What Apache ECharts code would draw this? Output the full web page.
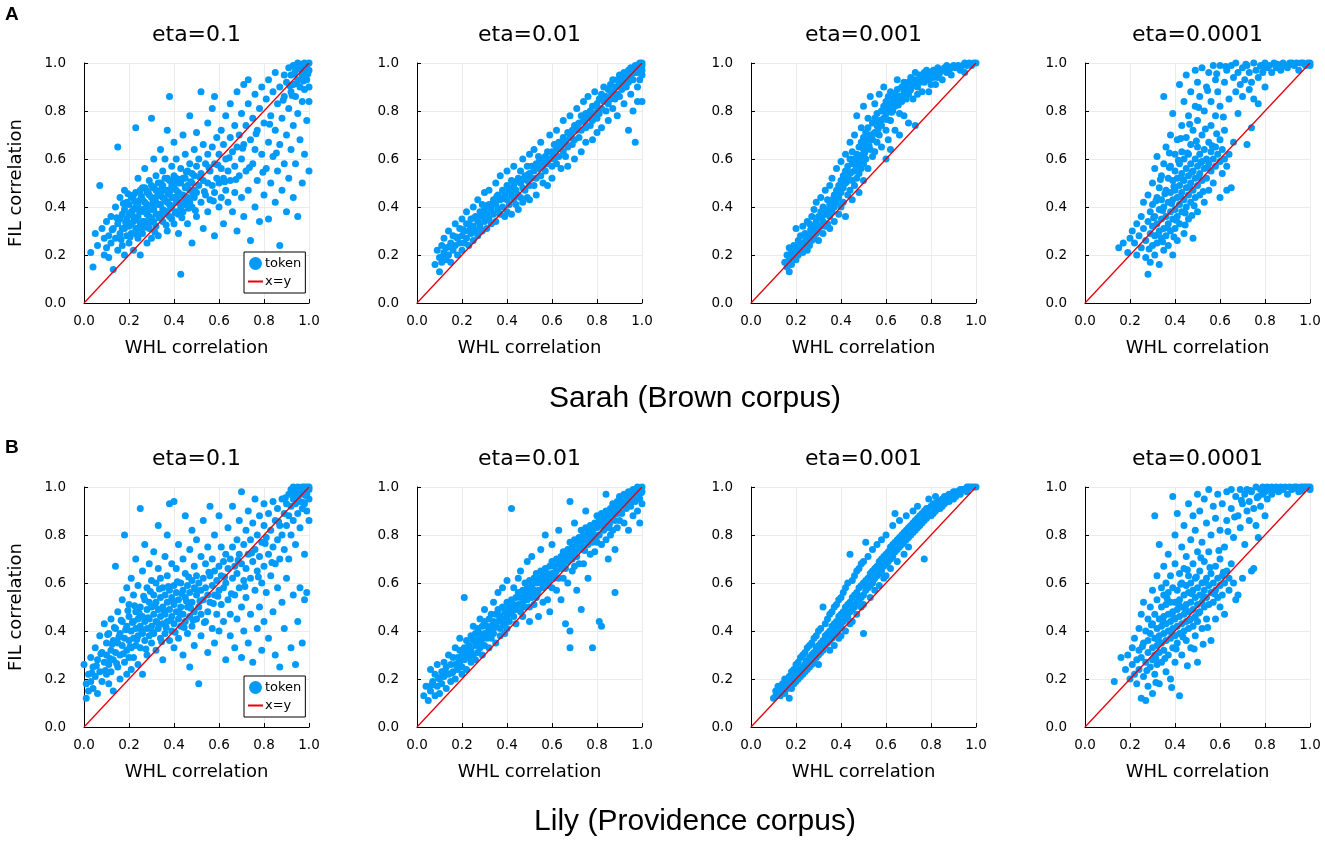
<!DOCTYPE html>
<html>
<head>
<meta charset="utf-8">
<title>WHL vs FIL correlation</title>
<script src="https://cdn.jsdelivr.net/npm/echarts@6/dist/echarts.min.js"></script>
<style>
  html, body { margin: 0; padding: 0; background: #fff; }
  #chart { width: 1325px; height: 846px; }
</style>
</head>
<body>
<div id="chart"></div>
<script>
// panel titles, row captions
var etaTitles = ['eta=0.1', 'eta=0.01', 'eta=0.001', 'eta=0.0001'];
var corpusLabels = ['Sarah (Brown corpus)', 'Lily (Providence corpus)'];
var panelLetters = ['A', 'B'];
var diagonal = [[0, 0], [1, 1]];

// Sarah, [WHL, FIL] per token
var sarahEta1 = [[.03,.21],[.04,.15],[.05,.29],[.06,.24],[.07,.49],[.08,.31],[.09,.2],[.09,.27],[.1,.34],[.1,.23],
[.11,.28],[.11,.19],[.12,.36],[.12,.25],[.13,.31],[.13,.14],[.14,.4],[.14,.27],[.15,.65],[.15,.33],[.15,.22],[.16,.44],[.16,.29],[.17,.37],[.17,.24],[.18,.31],[.18,.47],[.18,.2],[.19,.35],[.19,.28],[.2,.41],[.2,.32],[.2,.25],
[.21,.38],[.21,.29],[.22,.45],[.22,.34],[.22,.22],[.23,.73],[.23,.4],[.23,.31],[.24,.52],[.24,.36],[.24,.27],[.25,.43],[.25,.33],[.25,.2],[.26,.48],[.26,.39],[.26,.29],[.27,.56],[.27,.42],[.27,.34],[.28,.37],[.28,.46],[.28,.25],[.29,.51],[.29,.4],[.29,.31],[.3,.77],[.3,.44],[.3,.35],[.3,.27],
[.31,.6],[.31,.48],[.31,.39],[.32,.42],[.32,.32],[.32,.53],[.33,.45],[.33,.37],[.33,.28],[.34,.64],[.34,.5],[.34,.41],[.35,.55],[.35,.44],[.35,.34],[.36,.47],[.36,.38],[.36,.6],[.37,.72],[.37,.52],[.37,.42],[.37,.3],[.38,.86],[.38,.46],[.38,.36],[.39,.57],[.39,.49],[.39,.4],[.4,.67],[.4,.53],[.4,.44],[.4,.33],
[.41,.6],[.41,.47],[.41,.38],[.42,.5],[.42,.42],[.42,.29],[.43,.12],[.43,.56],[.43,.45],[.44,.7],[.44,.52],[.44,.38],[.45,.62],[.45,.48],[.45,.41],[.46,.55],[.46,.44],[.46,.33],[.47,.78],[.47,.58],[.47,.47],[.48,.5],[.48,.4],[.48,.25],[.49,.64],[.49,.53],[.49,.44],[.5,.71],[.5,.57],[.5,.46],[.5,.36],
[.51,.6],[.51,.49],[.52,.88],[.52,.54],[.52,.42],[.53,.66],[.53,.51],[.53,.31],[.54,.58],[.54,.45],[.55,.75],[.55,.62],[.55,.5],[.55,.38],[.56,.55],[.56,.43],[.57,.81],[.57,.65],[.57,.49],[.58,.86],[.58,.58],[.58,.46],[.58,.28],[.59,.69],[.59,.52],[.6,.62],[.6,.5],[.6,.4],
[.61,.72],[.61,.56],[.61,.44],[.62,.66],[.62,.52],[.62,.33],[.63,.78],[.63,.6],[.63,.47],[.64,.55],[.64,.42],[.65,.83],[.65,.69],[.65,.51],[.66,.63],[.66,.38],[.67,.74],[.67,.57],[.67,.46],[.68,.88],[.68,.65],[.68,.3],[.69,.7],[.69,.53],[.7,.79],[.7,.6],[.7,.44],
[.71,.91],[.71,.66],[.71,.36],[.72,.74],[.72,.55],[.73,.93],[.73,.83],[.73,.47],[.74,.68],[.74,.26],[.75,.77],[.75,.58],[.76,.87],[.76,.64],[.76,.4],[.77,.72],[.77,.51],[.78,.81],[.78,.34],[.79,.9],[.79,.62],[.8,.75],[.8,.45],
[.81,.85],[.81,.56],[.82,.93],[.82,.67],[.82,.35],[.83,.78],[.83,.5],[.84,.88],[.84,.61],[.85,.96],[.85,.72],[.85,.42],[.86,.83],[.86,.55],[.87,.9],[.87,.66],[.87,.24],[.88,.77],[.88,.47],[.89,.95],[.89,.86],[.89,.58],[.9,.92],[.9,.7],[.9,.38],
[.91,.98],[.91,.81],[.91,.52],[.92,.95],[.92,.88],[.92,.64],[.93,.99],[.93,.91],[.93,.74],[.93,.44],[.94,.97],[.94,.86],[.94,.58],[.95,1],[.95,.93],[.95,.79],[.95,.36],[.96,.98],[.96,.9],[.96,.68],[.97,.99],[.97,.95],[.97,.84],[.97,.5],[.98,1],[.98,.96],[.98,.89],[.98,.62],[.99,.99],[.99,.93],[.99,.76],[1,1],[1,.97],[1,.9],[1,.84],[1,.55],
[.16,.35],[.17,.31],[.18,.39],[.19,.42],[.2,.37],[.21,.33],[.21,.44],[.22,.39],[.23,.35],[.23,.46],[.24,.31],[.24,.41],[.25,.38],[.25,.47],[.26,.34],[.26,.43],[.27,.38],[.27,.48],[.28,.41],[.28,.32],[.29,.36],[.29,.45],[.3,.39],[.3,.49],[.31,.43],[.31,.34],[.32,.47],[.32,.37],[.33,.41],[.33,.5],[.34,.45],[.34,.36],[.35,.39],[.35,.49],[.36,.43],[.36,.52],[.37,.47],[.37,.37],[.38,.41],[.38,.51],[.39,.44],[.39,.35],[.4,.48],[.41,.42],[.41,.52],[.42,.46],[.42,.37],[.43,.4],[.43,.5],[.44,.45],[.45,.52],[.46,.49],[.47,.42],[.48,.54],[.49,.47],
[.125,.305],[.145,.355],[.165,.265],[.175,.415],[.185,.335],[.195,.455],[.205,.275],[.215,.365],[.225,.425],[.235,.285],[.245,.385],[.255,.445],[.265,.315],[.275,.395],[.285,.465],[.295,.335],[.305,.415],[.315,.295],[.325,.445],[.335,.355],[.345,.475],[.355,.385],[.365,.325],[.375,.455],[.385,.395],[.395,.505],[.405,.375],[.415,.445],[.425,.515],[.435,.355],[.445,.425],[.455,.545],[.465,.395],[.475,.505],[.485,.455],[.495,.385],[.515,.525],[.535,.465],[.555,.565],[.575,.425],[.595,.575],[.625,.505],[.645,.605],[.675,.515],[.705,.645],[.735,.565],[.765,.705],[.795,.545],[.825,.745],[.855,.625],[.885,.845],[.915,.905],[.935,.955],[.955,.975],[.975,.925],[.985,.985],[.995,.955],[.965,.995],[.945,.915],[.925,.865]];

var sarahEta2 = [[.08,.16],[.09,.22],[.1,.19],[.1,.13],[.11,.24],[.11,.17],[.12,.21],[.12,.27],[.13,.18],[.13,.23],[.14,.3],[.14,.2],[.15,.25],[.15,.17],[.16,.28],[.16,.22],[.17,.33],[.17,.24],[.18,.27],[.18,.2],[.19,.31],[.19,.25],[.2,.35],[.2,.28],[.2,.22],
[.21,.3],[.21,.25],[.22,.33],[.22,.27],[.22,.38],[.23,.3],[.23,.24],[.24,.35],[.24,.29],[.25,.32],[.25,.4],[.25,.26],[.26,.36],[.26,.3],[.27,.34],[.27,.43],[.27,.28],[.28,.38],[.28,.32],[.29,.36],[.29,.41],[.29,.3],[.3,.39],[.3,.34],[.3,.46],[.31,.37],[.31,.31],[.32,.41],[.32,.35],[.32,.47],[.33,.39],[.33,.33],[.34,.43],[.34,.37],[.35,.41],[.35,.5],[.35,.34],[.36,.45],[.36,.39],[.37,.43],[.37,.37],[.37,.53],[.38,.47],[.38,.4],[.39,.45],[.39,.36],[.4,.49],[.4,.43],[.4,.55],[.4,.38],
[.41,.47],[.41,.41],[.42,.51],[.42,.45],[.42,.37],[.43,.49],[.43,.43],[.43,.57],[.44,.47],[.44,.41],[.45,.52],[.45,.45],[.45,.39],[.46,.5],[.46,.55],[.46,.44],[.47,.48],[.47,.6],[.47,.42],[.48,.53],[.48,.47],[.49,.51],[.49,.57],[.49,.44],[.5,.54],[.5,.49],[.5,.62],[.5,.43],[.51,.52],[.51,.57],[.52,.55],[.52,.49],[.52,.64],[.53,.58],[.53,.52],[.53,.45],[.54,.56],[.54,.61],[.55,.59],[.55,.53],[.55,.67],[.56,.57],[.56,.5],[.57,.61],[.57,.55],[.58,.63],[.58,.58],[.58,.49],[.59,.6],[.59,.7],[.6,.63],[.6,.57],[.6,.52],
[.61,.66],[.61,.6],[.62,.64],[.62,.58],[.62,.72],[.63,.67],[.63,.61],[.64,.65],[.64,.56],[.65,.69],[.65,.63],[.65,.76],[.66,.67],[.66,.61],[.67,.71],[.67,.65],[.67,.57],[.68,.69],[.68,.78],[.69,.72],[.69,.66],[.7,.74],[.7,.68],[.7,.6],[.71,.72],[.71,.81],[.72,.75],[.72,.69],[.73,.78],[.73,.72],[.73,.63],[.74,.76],[.74,.84],[.75,.79],[.75,.73],[.75,.67],[.76,.77],[.76,.86],[.77,.8],[.77,.74],[.78,.82],[.78,.76],[.78,.68],[.79,.79],[.79,.88],[.8,.83],[.8,.77],[.8,.71],
[.81,.85],[.81,.79],[.82,.87],[.82,.81],[.82,.73],[.83,.84],[.83,.9],[.84,.86],[.84,.8],[.85,.89],[.85,.83],[.85,.76],[.86,.91],[.86,.85],[.87,.88],[.87,.93],[.87,.81],[.88,.9],[.88,.85],[.89,.93],[.89,.87],[.89,.78],[.9,.92],[.9,.95],[.9,.86],[.91,.94],[.91,.89],[.92,.96],[.92,.91],[.92,.83],[.93,.95],[.93,.9],[.94,.97],[.94,.92],[.94,.72],[.95,.98],[.95,.94],[.95,.87],[.96,.97],[.96,.93],[.96,.8],[.97,.99],[.97,.96],[.97,.67],[.98,.99],[.98,.96],[.98,.9],[.98,.84],[.99,1],[.99,.98],[.99,.93],[1,1],[1,.99],[1,.97],[1,.95],[1,.84],
[.115,.195],[.145,.235],[.175,.275],[.205,.305],[.235,.325],[.255,.355],[.285,.365],[.305,.405],[.335,.415],[.355,.445],[.385,.435],[.415,.475],[.435,.505],[.465,.515],[.495,.535],[.525,.565],[.545,.595],[.575,.585],[.605,.615],[.635,.645],[.655,.675],[.685,.705],[.715,.745],[.745,.755],[.775,.785],[.805,.805],[.835,.855],[.865,.875],[.895,.905],[.925,.935],[.955,.955],[.975,.975],[.995,.985]];

var sarahEta3 = [[.15,.17],[.16,.15],[.16,.2],[.17,.13],[.17,.18],[.17,.23],[.18,.16],[.18,.21],[.19,.19],[.19,.24],[.2,.18],[.2,.22],[.2,.31],[.21,.2],[.21,.26],[.22,.22],[.22,.28],[.23,.21],[.23,.25],[.23,.32],[.24,.23],[.24,.29],[.25,.26],[.25,.22],[.25,.34],
[.26,.28],[.26,.33],[.26,.24],[.27,.3],[.27,.36],[.27,.26],[.28,.32],[.28,.27],[.28,.39],[.29,.34],[.29,.29],[.29,.42],[.3,.36],[.3,.3],[.3,.26],[.31,.38],[.31,.32],[.31,.44],[.32,.34],[.32,.4],[.32,.29],[.33,.37],[.33,.47],[.33,.32],[.34,.39],[.34,.43],[.34,.33],[.35,.41],[.35,.36],[.35,.49],[.35,.31],
[.36,.43],[.36,.38],[.36,.52],[.37,.45],[.37,.4],[.37,.34],[.38,.47],[.38,.42],[.38,.56],[.39,.49],[.39,.44],[.39,.37],[.4,.51],[.4,.46],[.4,.59],[.4,.4],[.41,.53],[.41,.48],[.41,.42],[.42,.55],[.42,.5],[.42,.62],[.42,.36],[.43,.57],[.43,.52],[.43,.45],[.44,.6],[.44,.54],[.44,.67],[.44,.47],[.45,.58],[.45,.63],[.45,.51],[.45,.43],
[.46,.6],[.46,.55],[.46,.7],[.46,.49],[.47,.62],[.47,.57],[.47,.78],[.47,.52],[.48,.65],[.48,.59],[.48,.54],[.48,.46],[.49,.67],[.49,.61],[.49,.73],[.49,.56],[.5,.69],[.5,.64],[.5,.58],[.5,.82],[.5,.51],[.51,.71],[.51,.66],[.51,.6],[.52,.73],[.52,.68],[.52,.77],[.52,.56],[.53,.7],[.53,.64],[.53,.86],[.54,.75],[.54,.68],[.54,.61],[.55,.77],[.55,.71],[.55,.83],[.55,.63],
[.56,.74],[.56,.79],[.56,.67],[.57,.76],[.57,.87],[.57,.7],[.58,.8],[.58,.74],[.58,.65],[.59,.82],[.59,.77],[.59,.9],[.6,.84],[.6,.79],[.6,.72],[.6,.6],[.61,.81],[.61,.86],[.61,.68],[.62,.83],[.62,.88],[.62,.76],[.62,.64],[.63,.85],[.63,.8],[.64,.87],[.64,.82],[.64,.72],[.65,.89],[.65,.84],[.65,.93],[.66,.86],[.66,.79],[.66,.7],[.67,.9],[.67,.84],[.68,.88],[.68,.92],[.68,.78],[.69,.9],[.69,.85],[.7,.92],[.7,.87],[.7,.75],
[.71,.94],[.71,.89],[.72,.91],[.72,.85],[.73,.93],[.73,.96],[.73,.74],[.74,.9],[.74,.87],[.75,.95],[.75,.92],[.76,.94],[.76,.88],[.77,.96],[.77,.92],[.78,.94],[.78,.97],[.79,.93],[.79,.88],[.8,.96],[.8,.91],[.81,.97],[.81,.94],[.82,.95],[.82,.91],[.83,.98],[.83,.94],[.84,.96],[.85,.97],[.85,.93],[.86,.98],[.87,.96],[.87,.99],[.88,.97],[.89,.98],[.89,.95],[.9,.99],[.91,.98],[.92,.99],[.93,.97],[.94,.99],[.95,1],[.95,.96],[.96,.99],[.97,1],[.98,.99],[.99,1],[1,1],
[.185,.195],[.215,.235],[.245,.265],[.265,.305],[.295,.315],[.315,.355],[.345,.375],[.365,.415],[.385,.445],[.405,.485],[.425,.505],[.445,.545],[.465,.575],[.485,.615],[.505,.625],[.525,.655],[.545,.705],[.565,.725],[.585,.765],[.605,.765],[.625,.795],[.655,.825],[.675,.865],[.705,.885],[.735,.905],[.765,.925],[.795,.945],[.835,.955],[.875,.975],[.925,.985]];

var sarahEta4 = [[.15,.23],[.17,.25],[.19,.21],[.2,.27],[.21,.3],[.22,.25],[.23,.33],[.23,.2],[.24,.28],[.25,.36],[.25,.23],[.26,.31],[.26,.42],[.27,.26],[.27,.19],[.28,.34],[.28,.12],[.28,.45],[.29,.29],[.29,.38],[.29,.17],[.3,.32],[.3,.5],[.3,.24],[.3,.41],
[.31,.36],[.31,.28],[.31,.56],[.31,.2],[.32,.44],[.32,.33],[.32,.25],[.32,.61],[.33,.39],[.33,.3],[.33,.48],[.33,.16],[.34,.35],[.34,.53],[.34,.27],[.34,.43],[.35,.31],[.35,.4],[.35,.58],[.35,.22],[.35,.86],[.36,.47],[.36,.36],[.36,.28],[.36,.65],[.37,.42],[.37,.33],[.37,.52],[.37,.24],[.38,.38],[.38,.46],[.38,.3],[.38,.7],[.38,.57],[.39,.43],[.39,.35],[.39,.51],[.39,.2],[.39,.79],[.4,.47],[.4,.39],[.4,.62],[.4,.31],[.4,.55],
[.41,.44],[.41,.36],[.41,.52],[.41,.68],[.41,.26],[.42,.49],[.42,.41],[.42,.58],[.42,.33],[.42,.91],[.43,.46],[.43,.54],[.43,.38],[.43,.74],[.43,.63],[.44,.51],[.44,.43],[.44,.6],[.44,.29],[.44,.84],[.45,.48],[.45,.56],[.45,.4],[.45,.69],[.45,.95],[.46,.53],[.46,.45],[.46,.62],[.46,.35],[.46,.78],[.47,.5],[.47,.58],[.47,.42],[.47,.88],[.47,.66],[.48,.55],[.48,.47],[.48,.72],[.48,.27],[.49,.52],[.49,.6],[.49,.44],[.49,.82],[.49,.97],[.5,.57],[.5,.49],[.5,.65],[.5,.38],[.5,.76],[.5,.92],
[.51,.54],[.51,.62],[.51,.45],[.51,.86],[.52,.59],[.52,.51],[.52,.7],[.52,.98],[.53,.56],[.53,.64],[.53,.42],[.53,.8],[.54,.6],[.54,.52],[.54,.9],[.55,.58],[.55,.67],[.55,.47],[.55,.96],[.56,.63],[.56,.74],[.56,.55],[.56,.84],[.57,.6],[.57,.5],[.57,.99],[.58,.65],[.58,.57],[.58,.78],[.58,.93],[.59,.62],[.59,.88],[.6,.59],[.6,.68],[.6,.82],[.6,.99],[.6,.44],[.61,.64],[.61,.54],[.62,.6],[.62,.92],[.62,.72],[.63,.57],[.63,.97],[.63,.47],[.64,.62],[.64,.85],[.65,.48],[.65,.99],
[.66,.94],[.66,.67],[.67,1],[.67,.88],[.68,.96],[.68,.79],[.69,.91],[.7,.98],[.7,.86],[.71,.93],[.72,.99],[.72,.66],[.73,.89],[.73,.96],[.74,.73],[.74,.92],[.75,1],[.75,.85],[.76,.97],[.77,.94],[.77,.83],[.78,.99],[.79,.96],[.8,1],[.8,.9],[.81,.98],[.82,.99],[.83,.96],[.84,1],[.85,.98],[.86,.99],[.87,.97],[.88,1],[.89,.99],[.9,.98],[.91,1],[.92,1],[.93,.99],[.94,1],[.95,.97],[.96,1],[.97,1],[.98,.99],[.99,1],[1,1],[1,.99],
[.305,.355],[.315,.425],[.325,.285],[.335,.515],[.345,.385],[.355,.455],[.365,.315],[.375,.565],[.385,.415],[.395,.485],[.405,.345],[.415,.595],[.425,.445],[.435,.515],[.445,.375],[.455,.625],[.465,.485],[.475,.545],[.485,.405],[.495,.675],[.505,.525],[.515,.585],[.525,.465],[.535,.725],[.545,.565],[.565,.655],[.585,.705],[.615,.775],[.285,.225],[.345,.255],[.395,.275],[.445,.325],[.475,.365],[.375,.625],[.425,.685],[.465,.745],[.505,.815],[.545,.885],[.585,.955],[.625,.985],[.715,.995],[.785,.985],[.855,.995],[.925,.995]];

// Lily, [WHL, FIL] per token
var lilyEta1 = [[0,.26],[.01,.18],[.01,.12],[.02,.22],[.02,.15],[.03,.29],[.03,.19],[.04,.25],[.04,.16],[.05,.33],[.05,.21],[.06,.28],[.06,.14],[.07,.38],[.07,.23],[.08,.31],[.08,.19],[.09,.43],[.09,.27],[.1,.35],[.1,.22],[.1,.3],
[.11,.39],[.11,.26],[.11,.18],[.12,.32],[.12,.45],[.12,.23],[.13,.36],[.13,.28],[.13,.15],[.14,.41],[.14,.31],[.14,.67],[.15,.35],[.15,.25],[.15,.48],[.16,.39],[.16,.3],[.16,.2],[.17,.44],[.17,.34],[.17,.53],[.18,.37],[.18,.27],[.18,.8],[.19,.42],[.19,.32],[.19,.58],[.19,.22],[.2,.46],[.2,.36],[.2,.29],[.2,.51],
[.21,.4],[.21,.33],[.21,.62],[.21,.24],[.22,.44],[.22,.37],[.22,.55],[.22,.29],[.23,.48],[.23,.41],[.23,.34],[.23,.7],[.24,.45],[.24,.38],[.24,.59],[.24,.26],[.25,.91],[.25,.5],[.25,.42],[.25,.33],[.26,.46],[.26,.39],[.26,.65],[.26,.22],[.27,.53],[.27,.44],[.27,.36],[.27,.76],[.28,.49],[.28,.41],[.28,.58],[.28,.3],[.29,.45],[.29,.38],[.29,.68],[.29,.52],[.3,.5],[.3,.42],[.3,.35],[.3,.61],
[.31,.47],[.31,.55],[.31,.39],[.31,.73],[.32,.52],[.32,.44],[.32,.6],[.32,.32],[.33,.49],[.33,.41],[.33,.66],[.33,.84],[.34,.54],[.34,.46],[.34,.37],[.34,.62],[.35,.5],[.35,.43],[.35,.58],[.35,.28],[.36,.55],[.36,.47],[.36,.71],[.36,.39],[.37,.52],[.37,.44],[.37,.63],[.37,.8],[.38,.57],[.38,.49],[.38,.36],[.38,.93],[.39,.54],[.39,.46],[.39,.68],[.39,.4],[.4,.59],[.4,.51],[.4,.94],[.4,.43],[.4,.33],
[.41,.56],[.41,.48],[.41,.66],[.42,.53],[.42,.45],[.42,.76],[.42,.37],[.43,.6],[.43,.5],[.43,.42],[.44,.57],[.44,.47],[.44,.7],[.44,.3],[.45,.54],[.45,.44],[.45,.64],[.45,.88],[.46,.59],[.46,.5],[.46,.39],[.47,.56],[.47,.46],[.47,.74],[.47,.25],[.48,.61],[.48,.52],[.48,.42],[.48,.82],[.49,.58],[.49,.48],[.49,.67],[.49,.34],[.5,.55],[.5,.45],[.5,.63],[.5,.78],
[.51,.6],[.51,.5],[.51,.18],[.52,.57],[.52,.47],[.52,.71],[.52,.38],[.53,.62],[.53,.53],[.53,.86],[.54,.58],[.54,.44],[.54,.68],[.55,.55],[.55,.48],[.55,.75],[.55,.31],[.56,.63],[.56,.52],[.56,.92],[.57,.59],[.57,.41],[.57,.7],[.58,.65],[.58,.55],[.58,.8],[.58,.35],[.59,.61],[.59,.47],[.6,.67],[.6,.57],[.6,.88],[.6,.4],
[.61,.63],[.61,.51],[.61,.75],[.62,.69],[.62,.44],[.62,.58],[.63,.72],[.63,.6],[.63,.28],[.64,.66],[.64,.53],[.64,.83],[.65,.7],[.65,.47],[.65,.38],[.66,.75],[.66,.62],[.66,.92],[.67,.67],[.67,.55],[.67,.33],[.68,.78],[.68,.64],[.68,.45],[.69,.72],[.69,.58],[.69,.86],[.7,.98],[.7,.68],[.7,.5],[.7,.29],
[.71,.76],[.71,.61],[.71,.4],[.72,.82],[.72,.66],[.72,.54],[.73,.72],[.73,.9],[.73,.35],[.74,.78],[.74,.62],[.74,.47],[.75,.85],[.75,.69],[.75,.27],[.76,.74],[.76,.57],[.76,.95],[.77,.8],[.77,.65],[.77,.41],[.78,.88],[.78,.71],[.78,.5],[.79,.77],[.79,.6],[.79,.32],[.8,.84],[.8,.67],[.8,.93],[.8,.44],
[.81,.79],[.81,.56],[.82,.89],[.82,.72],[.82,.37],[.83,.82],[.83,.63],[.84,.94],[.84,.75],[.84,.48],[.85,.86],[.85,.68],[.85,.3],[.86,.91],[.86,.78],[.86,.58],[.87,.84],[.87,.7],[.87,.25],[.88,.95],[.88,.8],[.88,.52],[.89,.89],[.89,.74],[.89,.41],[.9,.93],[.9,.84],[.9,.62],
[.91,.97],[.91,.88],[.91,.7],[.92,.99],[.92,.92],[.92,.8],[.92,.33],[.93,1],[.93,.95],[.93,.86],[.93,.55],[.94,.98],[.94,.93],[.94,.76],[.94,.26],[.95,1],[.95,.96],[.95,.89],[.95,.44],[.96,.99],[.96,.94],[.96,.83],[.96,.58],[.97,1],[.97,.97],[.97,.91],[.97,.35],[.98,1],[.98,.98],[.98,.93],[.98,.72],[.98,.53],[.99,1],[.99,.97],[.99,.9],[.99,.56],[1,1],[1,.99],[1,.95],[1,.86],
[.035,.225],[.055,.255],[.075,.305],[.095,.235],[.105,.385],[.115,.285],[.125,.345],[.135,.415],[.145,.265],[.155,.375],[.165,.445],[.175,.305],[.185,.405],[.195,.485],[.205,.335],[.215,.435],[.225,.505],[.235,.365],[.245,.475],[.255,.405],[.265,.545],[.275,.325],[.285,.455],[.295,.565],[.305,.395],[.315,.505],[.325,.435],[.335,.575],[.345,.355],[.355,.485],[.365,.415],[.375,.585],[.385,.445],[.395,.525],[.405,.395],[.415,.605],[.425,.475],[.435,.555],[.445,.415],[.455,.525],[.465,.625],[.475,.495],[.485,.445],[.495,.575],[.515,.525],[.535,.435],[.555,.645],[.575,.515],[.595,.545],[.625,.625],[.655,.555],[.685,.695],[.715,.585],[.745,.725],[.775,.625],[.805,.765],[.835,.685],[.865,.855],[.895,.955],[.925,.975],[.945,.955],[.965,.985],[.985,.965],[.995,.995],[.975,.935]];

var lilyEta2 = [[.03,.13],[.04,.17],[.05,.11],[.06,.24],[.06,.15],[.07,.19],[.08,.13],[.08,.22],[.09,.17],[.09,.26],[.1,.2],[.1,.14],[.11,.23],[.11,.18],[.12,.27],[.12,.21],[.13,.16],[.13,.25],[.14,.3],[.14,.22],[.15,.26],[.15,.19],[.16,.29],[.16,.23],[.17,.33],[.17,.26],[.17,.2],[.18,.29],[.18,.24],[.19,.32],[.19,.27],[.19,.37],[.2,.3],[.2,.25],[.2,.22],
[.21,.33],[.21,.28],[.21,.54],[.22,.36],[.22,.31],[.22,.24],[.23,.34],[.23,.29],[.24,.38],[.24,.32],[.24,.27],[.25,.36],[.25,.42],[.25,.3],[.26,.39],[.26,.34],[.26,.28],[.27,.41],[.27,.36],[.27,.31],[.28,.39],[.28,.45],[.28,.33],[.29,.42],[.29,.37],[.29,.3],[.3,.44],[.3,.39],[.3,.34],[.3,.49],[.31,.42],[.31,.37],[.32,.45],[.32,.4],[.32,.33],[.33,.47],[.33,.42],[.33,.37],[.34,.44],[.34,.52],[.34,.39],[.35,.47],[.35,.42],[.35,.35],[.36,.49],[.36,.44],[.36,.56],[.37,.46],[.37,.41],[.37,.38],[.38,.5],[.38,.45],[.38,.58],[.39,.48],[.39,.43],[.39,.39],[.4,.52],[.4,.46],[.4,.61],[.4,.41],
[.41,.5],[.41,.44],[.42,.91],[.42,.53],[.42,.48],[.43,.51],[.43,.46],[.43,.58],[.44,.54],[.44,.49],[.44,.43],[.45,.56],[.45,.51],[.45,.62],[.46,.54],[.46,.48],[.46,.65],[.47,.57],[.47,.52],[.47,.46],[.48,.6],[.48,.55],[.48,.5],[.49,.58],[.49,.53],[.49,.69],[.5,.61],[.5,.56],[.5,.5],[.5,.44],[.51,.59],[.51,.54],[.51,.71],[.52,.62],[.52,.57],[.52,.51],[.53,.64],[.53,.6],[.53,.54],[.54,.62],[.54,.57],[.54,.46],[.55,.65],[.55,.6],[.55,.74],[.56,.63],[.56,.58],[.56,.52],[.57,.66],[.57,.61],[.57,.8],[.58,.64],[.58,.59],[.58,.53],[.59,.67],[.59,.62],[.59,.48],[.6,.69],[.6,.64],[.6,.58],[.6,.76],
[.61,.67],[.61,.62],[.62,.7],[.62,.65],[.62,.57],[.63,.68],[.63,.62],[.63,.82],[.64,.71],[.64,.66],[.64,.53],[.65,.73],[.65,.68],[.65,.62],[.66,.71],[.66,.66],[.66,.43],[.67,.74],[.67,.69],[.67,.6],[.68,.77],[.68,.72],[.68,.94],[.68,.4],[.68,.33],[.69,.75],[.69,.7],[.69,.65],[.7,.78],[.7,.73],[.7,.67],[.7,.85],[.71,.76],[.71,.71],[.71,.57],[.72,.79],[.72,.74],[.72,.68],[.73,.82],[.73,.77],[.73,.49],[.74,.8],[.74,.75],[.74,.68],[.75,.83],[.75,.78],[.75,.9],[.76,.81],[.76,.76],[.76,.62],[.77,.84],[.77,.79],[.77,.72],[.78,.82],[.78,.77],[.78,.33],[.79,.85],[.79,.8],[.79,.73],[.8,.88],[.8,.83],[.8,.77],
[.81,.86],[.81,.8],[.81,.44],[.82,.89],[.82,.84],[.82,.76],[.82,.42],[.83,.87],[.83,.82],[.84,.97],[.84,.9],[.84,.85],[.84,.78],[.85,.88],[.85,.83],[.85,.7],[.86,.91],[.86,.86],[.86,.8],[.87,.93],[.87,.89],[.87,.82],[.88,.91],[.88,.86],[.88,.56],[.88,.74],[.89,.94],[.89,.89],[.89,.83],[.9,.96],[.9,.92],[.9,.86],[.91,.94],[.91,.89],[.92,.97],[.92,.93],[.92,.85],[.93,.96],[.93,.91],[.94,.98],[.94,.94],[.94,.82],[.95,.97],[.95,.92],[.96,.99],[.96,.95],[.96,.88],[.97,.98],[.97,.94],[.98,1],[.98,.96],[.98,.9],[.99,.99],[.99,.95],[.99,.85],[1,1],[1,.98],[1,.93],
[.065,.175],[.095,.205],[.125,.235],[.155,.225],[.185,.265],[.215,.305],[.235,.315],[.265,.365],[.285,.355],[.315,.395],[.345,.415],[.365,.465],[.385,.425],[.415,.475],[.435,.495],[.465,.505],[.485,.535],[.515,.565],[.535,.555],[.565,.615],[.585,.605],[.615,.645],[.645,.685],[.665,.695],[.695,.715],[.725,.765],[.745,.735],[.775,.815],[.795,.785],[.825,.855],[.855,.845],[.875,.885],[.905,.895],[.935,.935],[.955,.945],[.975,.965],[.995,.975]];

var lilyEta3 = [[.1,.12],[.11,.15],[.11,.13],[.12,.14],[.12,.17],[.13,.13],[.13,.16],[.14,.18],[.14,.15],[.15,.17],[.15,.14],[.15,.2],[.16,.16],[.16,.19],[.17,.18],[.17,.21],[.17,.12],[.18,.19],[.18,.23],[.18,.16],[.19,.2],[.19,.24],[.19,.18],[.2,.21],[.2,.19],[.2,.26],[.21,.23],[.21,.2],[.21,.27],[.22,.24],[.22,.21],[.22,.29],[.23,.25],[.23,.22],[.23,.3],[.24,.26],[.24,.23],[.24,.31],[.25,.27],[.25,.24],[.25,.33],[.26,.29],[.26,.25],[.26,.34],[.27,.3],[.27,.26],[.27,.35],[.28,.31],[.28,.27],[.28,.37],[.29,.33],[.29,.29],[.29,.38],[.3,.34],[.3,.3],[.3,.4],[.3,.26],
[.31,.35],[.31,.31],[.31,.41],[.32,.36],[.32,.32],[.32,.5],[.33,.38],[.33,.34],[.33,.43],[.34,.39],[.34,.35],[.34,.45],[.35,.4],[.35,.36],[.35,.47],[.35,.32],[.36,.42],[.36,.37],[.36,.48],[.37,.43],[.37,.39],[.37,.5],[.37,.34],[.38,.44],[.38,.4],[.38,.51],[.39,.46],[.39,.41],[.39,.53],[.39,.37],[.4,.47],[.4,.42],[.4,.54],[.4,.38],[.41,.48],[.41,.44],[.41,.56],[.42,.5],[.42,.45],[.42,.58],[.42,.4],[.43,.51],[.43,.46],[.43,.6],[.44,.52],[.44,.48],[.44,.72],[.44,.43],[.45,.54],[.45,.49],[.45,.61],[.45,.44],[.46,.55],[.46,.5],[.46,.63],[.47,.56],[.47,.52],[.47,.65],[.47,.47],[.48,.58],[.48,.53],[.48,.66],[.49,.59],[.49,.54],[.49,.68],[.49,.5],[.5,.6],[.5,.55],[.5,.69],[.5,.39],[.5,.51],
[.51,.61],[.51,.57],[.51,.77],[.52,.62],[.52,.58],[.52,.71],[.53,.64],[.53,.59],[.53,.54],[.54,.65],[.54,.6],[.54,.74],[.55,.66],[.55,.62],[.55,.57],[.56,.67],[.56,.63],[.56,.76],[.57,.69],[.57,.64],[.57,.59],[.58,.7],[.58,.65],[.58,.78],[.59,.71],[.59,.67],[.59,.62],[.6,.72],[.6,.68],[.6,.8],[.6,.63],[.61,.73],[.61,.69],[.62,.75],[.62,.7],[.62,.66],[.63,.76],[.63,.71],[.63,.84],[.64,.77],[.64,.73],[.64,.89],[.65,.78],[.65,.74],[.65,.69],[.66,.79],[.66,.75],[.66,.86],[.67,.8],[.67,.76],[.68,.81],[.68,.77],[.68,.72],[.69,.82],[.69,.78],[.69,.88],[.7,.83],[.7,.79],[.7,.75],
[.71,.84],[.71,.8],[.72,.85],[.72,.81],[.72,.9],[.73,.86],[.73,.82],[.74,.87],[.74,.92],[.74,.83],[.75,.88],[.75,.84],[.76,.89],[.76,.85],[.77,.9],[.77,.86],[.77,.7],[.78,.91],[.78,.87],[.79,.91],[.79,.88],[.79,.95],[.8,.92],[.8,.88],[.81,.93],[.81,.89],[.82,.93],[.82,.9],[.82,.96],[.83,.94],[.83,.91],[.84,.94],[.84,.91],[.85,.95],[.85,.92],[.86,.96],[.86,.93],[.87,.96],[.87,.94],[.88,.97],[.88,.94],[.89,.97],[.89,.95],[.9,.98],[.9,.95],[.91,.98],[.91,.96],[.92,.98],[.93,.99],[.93,.97],[.94,.99],[.95,.99],[.96,1],[.96,.98],[.97,1],[.98,1],[.99,1],[1,1],
[.125,.155],[.155,.185],[.185,.205],[.215,.235],[.245,.275],[.275,.305],[.305,.325],[.335,.365],[.365,.405],[.395,.435],[.425,.475],[.455,.505],[.485,.545],[.515,.585],[.545,.615],[.575,.665],[.605,.685],[.635,.735],[.665,.775],[.695,.795],[.725,.835],[.755,.865],[.785,.885],[.815,.905],[.845,.925],[.875,.955],[.905,.965],[.935,.985],[.965,.995]];

var lilyEta4 = [[.13,.19],[.16,.29],[.18,.24],[.19,.3],[.2,.2],[.21,.26],[.21,.33],[.22,.22],[.22,.37],[.23,.28],[.23,.18],[.24,.32],[.24,.41],[.24,.24],[.25,.12],[.25,.29],[.25,.47],[.26,.35],[.26,.21],[.26,.52],[.27,.27],[.27,.4],[.27,.11],[.28,.31],[.28,.45],[.28,.17],[.28,.36],[.29,.25],[.29,.5],[.29,.39],[.3,.33],[.3,.28],[.3,.43],[.3,.57],[.3,.14],
[.31,.37],[.31,.3],[.31,.88],[.31,.47],[.31,.22],[.32,.41],[.32,.34],[.32,.53],[.32,.26],[.32,.63],[.33,.38],[.33,.45],[.33,.31],[.33,.18],[.33,.76],[.34,.42],[.34,.35],[.34,.5],[.34,.58],[.34,.27],[.35,.46],[.35,.39],[.35,.32],[.35,.55],[.35,.67],[.36,.43],[.36,.36],[.36,.51],[.36,.23],[.36,.6],[.37,.47],[.37,.4],[.37,.56],[.37,.3],[.37,.72],[.38,.44],[.38,.37],[.38,.52],[.38,.63],[.38,.2],[.39,.96],[.39,.48],[.39,.41],[.39,.58],[.39,.33],[.4,.45],[.4,.52],[.4,.38],[.4,.68],[.4,.8],[.4,.27],
[.41,.49],[.41,.42],[.41,.57],[.41,.35],[.41,.89],[.42,.13],[.42,.46],[.42,.53],[.42,.39],[.42,.64],[.43,.5],[.43,.43],[.43,.6],[.43,.75],[.43,.3],[.44,.47],[.44,.55],[.44,.4],[.44,.84],[.44,.66],[.45,.51],[.45,.44],[.45,.59],[.45,.36],[.45,.71],[.46,.48],[.46,.56],[.46,.41],[.46,.93],[.46,.63],[.47,.52],[.47,.45],[.47,.6],[.47,.78],[.47,.33],[.48,.49],[.48,.57],[.48,.42],[.48,.68],[.48,.88],[.49,.54],[.49,.46],[.49,.62],[.49,.38],[.49,.82],[.5,.51],[.5,.58],[.5,.44],[.5,.73],[.5,.97],[.5,.27],
[.51,.55],[.51,.48],[.51,.65],[.51,.9],[.52,.52],[.52,.6],[.52,.41],[.52,.77],[.53,.57],[.53,.5],[.53,.69],[.53,.95],[.54,.54],[.54,.62],[.54,.45],[.54,.85],[.55,.59],[.55,.51],[.55,.73],[.55,.99],[.56,.56],[.56,.64],[.56,.36],[.56,.8],[.57,.6],[.57,.52],[.57,.92],[.58,.57],[.58,.67],[.58,.45],[.58,.87],[.59,.62],[.59,.54],[.59,.97],[.6,.59],[.6,.7],[.6,.5],[.6,.82],[.61,.63],[.61,.55],[.61,.93],[.62,.6],[.62,.75],[.62,.47],[.63,.65],[.63,.98],[.63,.86],[.64,.57],[.64,.62],[.65,.68],[.65,.91],[.65,.99],
[.66,.6],[.66,.79],[.67,.96],[.67,.53],[.68,.88],[.68,.55],[.69,.99],[.69,.83],[.7,.93],[.7,.62],[.71,.97],[.71,.76],[.72,.9],[.72,.99],[.73,.86],[.73,.94],[.74,.65],[.74,.98],[.75,.91],[.75,.66],[.76,1],[.76,.84],[.77,.96],[.77,.79],[.78,.99],[.78,.92],[.79,1],[.79,.97],[.8,.98],[.8,.88],[.81,1],[.81,.95],[.82,.99],[.83,1],[.83,.97],[.84,.99],[.85,1],[.86,.98],[.87,1],[.88,.99],[.89,1],[.9,.97],[.91,1],[.92,.99],[.93,1],[.94,1],[.95,.98],[.96,1],[.97,1],[.98,1],[.99,1],[1,1],[1,.99],
[.255,.335],[.275,.235],[.295,.425],[.315,.285],[.325,.365],[.345,.445],[.355,.285],[.365,.535],[.385,.395],[.395,.455],[.405,.325],[.415,.515],[.425,.595],[.435,.375],[.445,.495],[.455,.655],[.465,.445],[.475,.555],[.485,.325],[.495,.625],[.505,.475],[.515,.705],[.525,.545],[.535,.605],[.545,.415],[.555,.665],[.575,.555],[.595,.735],[.615,.645],[.635,.815],[.665,.875],[.695,.945],[.735,.985],[.765,.955],[.815,.995],[.865,.985],[.925,.995],[.965,.985],[.315,.185],[.385,.165],[.455,.255],[.525,.345]];

var panelData = [
  [sarahEta1, sarahEta2, sarahEta3, sarahEta4],
  [lilyEta1, lilyEta2, lilyEta3, lilyEta4]
];

// layout (pixels)
var colLeft = [84, 417, 751, 1085];
var rowTop = [63, 487];
var plotW = 225, plotH = 240;
var dotColor = '#009AFA';
var lineColor = '#e6000a';
var tickFont = 'DejaVu Sans';

var chart = echarts.init(document.getElementById('chart'));

var grids = [], xAxes = [], yAxes = [], series = [], legends = [], texts = [];

function axisCommon(idx) {
  return {
    gridIndex: idx,
    type: 'value',
    min: 0,
    max: 1,
    interval: 0.2,
    axisLine: { show: true, lineStyle: { color: '#000', width: 1 } },
    axisTick: { show: true, inside: true, length: 4, lineStyle: { color: '#000' } },
    splitLine: { show: true, lineStyle: { color: '#ebebeb', width: 1 } },
    axisLabel: {
      color: '#000', fontFamily: tickFont, fontSize: 13.5,
      formatter: function (v) { return v.toFixed(1); }
    },
    nameTextStyle: { color: '#000', fontFamily: tickFont, fontSize: 18 }
  };
}

for (var r = 0; r < 2; r++) {
  for (var c = 0; c < 4; c++) {
    var idx = r * 4 + c;
    grids.push({ left: colLeft[c], top: rowTop[r], width: plotW, height: plotH, containLabel: false });

    var xa = axisCommon(idx);
    xa.name = 'WHL correlation';
    xa.nameLocation = 'middle';
    xa.nameGap = 36;
    xa.axisLabel.margin = 11;
    xAxes.push(xa);

    var ya = axisCommon(idx);
    ya.axisLabel.margin = 18;
    if (c === 0) {
      ya.name = 'FIL correlation';
      ya.nameLocation = 'middle';
      ya.nameGap = 59;
    }
    yAxes.push(ya);

    series.push({
      type: 'scatter',
      name: 'token',
      xAxisIndex: idx,
      yAxisIndex: idx,
      data: panelData[r][c],
      symbol: 'circle',
      symbolSize: 7,
      itemStyle: { color: dotColor, opacity: 1 },
      silent: true,
      z: 2
    });
    series.push({
      type: 'line',
      name: 'x=y',
      xAxisIndex: idx,
      yAxisIndex: idx,
      data: diagonal,
      symbol: 'none',
      lineStyle: { color: lineColor, width: 1.2 },
      itemStyle: { color: lineColor },
      silent: true,
      z: 3
    });

    texts.push({
      type: 'text',
      style: {
        text: etaTitles[c], x: colLeft[c] + plotW / 2, y: rowTop[r] - 28,
        textAlign: 'center', textVerticalAlign: 'middle',
        font: '22px "DejaVu Sans"', fill: '#000'
      }
    });
  }

  legends.push({
    left: 244,
    top: rowTop[r] + 189,
    orient: 'vertical',
    data: [
      { name: 'token', icon: 'circle' },
      { name: 'x=y', itemStyle: { color: 'rgba(0,0,0,0)', borderWidth: 0 } }
    ],
    borderColor: '#000',
    borderWidth: 1,
    backgroundColor: '#fff',
    padding: [5, 4, 5, 3],
    itemGap: 5,
    itemWidth: 15,
    itemHeight: 13,
    selectedMode: false,
    textStyle: { color: '#000', fontFamily: tickFont, fontSize: 13, padding: [0, 0, 0, -3] }
  });

  texts.push({
    type: 'text',
    style: {
      text: corpusLabels[r], x: 695, y: r === 0 ? 399 : 822,
      textAlign: 'center', textVerticalAlign: 'middle',
      font: '30px "Liberation Sans"', fill: '#000'
    }
  });
  texts.push({
    type: 'text',
    style: {
      text: panelLetters[r], x: 5, y: r === 0 ? 15 : 448,
      textAlign: 'left', textVerticalAlign: 'middle',
      font: 'bold 19px "Liberation Sans"', fill: '#000'
    }
  });
}

chart.setOption({
  animation: false,
  backgroundColor: '#fff',
  grid: grids,
  xAxis: xAxes,
  yAxis: yAxes,
  legend: legends,
  series: series,
  graphic: texts
});
</script>
</body>
</html>
